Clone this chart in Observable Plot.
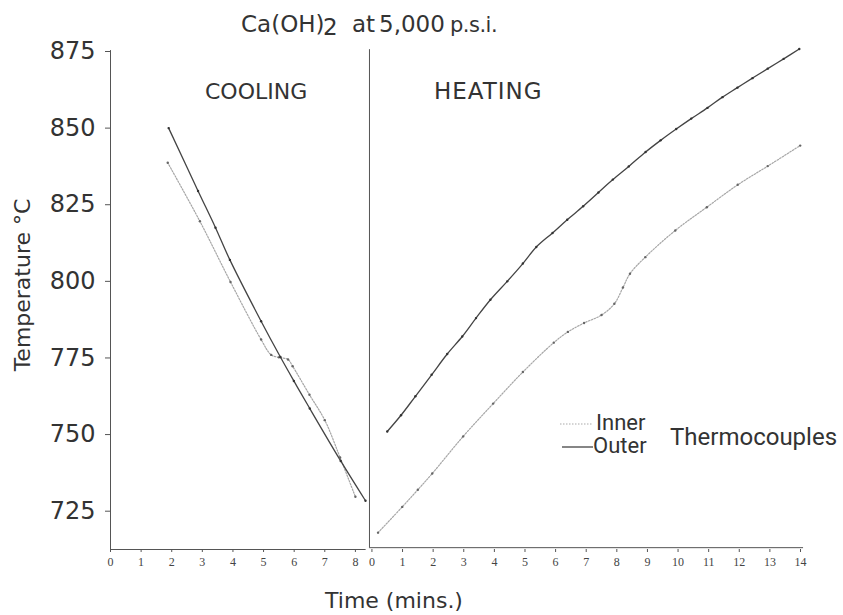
<!DOCTYPE html>
<html>
<head>
<meta charset="utf-8">
<script src="https://cdn.jsdelivr.net/npm/d3@7"></script>
<script src="https://cdn.jsdelivr.net/npm/@observablehq/plot@0.6"></script>
<style>
  html, body { margin: 0; padding: 0; background: #fff; }
  #wrap { position: relative; width: 843px; height: 615px; overflow: hidden; }
  #wrap > svg { position: absolute; left: 0; top: 0; }
  #overlay { pointer-events: none; }
</style>
</head>
<body>
<div id="wrap">
  <div id="chart"></div>
  <svg id="overlay" width="843" height="615" xmlns="http://www.w3.org/2000/svg">
    <g fill="#333" font-family="'DejaVu Sans', sans-serif">
      <text x="241" y="32" font-size="23">Ca(OH)</text>
      <text x="323" y="35" font-size="23">2</text>
      <text x="352" y="32" font-size="23">at</text>
      <text x="379" y="32" font-size="23">5,000</text>
      <text x="450" y="32" font-size="21" letter-spacing="-0.5">p.s.i.</text>
      <text x="205" y="99" font-size="22">COOLING</text>
      <text x="434" y="99" font-size="23" letter-spacing="1">HEATING</text>
      <text transform="translate(30,285) rotate(-90)" text-anchor="middle" font-size="22">Temperature °C</text>
      <text x="394" y="608" text-anchor="middle" font-size="22">Time (mins.)</text>
    </g>
    <g fill="#333" font-family="Roboto, sans-serif">
      <line x1="560" y1="424" x2="593" y2="424" stroke="#aaa" stroke-width="1.2" stroke-dasharray="1.5,1.5"/>
      <line x1="562" y1="447" x2="593" y2="447" stroke="#444" stroke-width="1.3"/>
      <text x="596" y="430" font-size="22">Inner</text>
      <text x="593" y="453" font-size="22">Outer</text>
      <text x="670" y="445" font-size="24">Thermocouples</text>
    </g>
  </svg>
</div>
<script>
// ---- data (time in minutes, temperature in °C) ----
const coolOuterTime = [1.9, 2.86, 3.43, 3.9, 4.92, 5.55, 5.99, 6.51, 7.52, 8.33];
const coolOuterTemp = [850, 829.5, 817.5, 807, 787, 775.3, 767.5, 758.5, 741.4, 728.4];

const coolInnerTime = [1.87, 2.92, 3.92, 4.92, 5.25, 5.5, 5.8, 5.95, 6.5, 7.0, 7.5, 8.0];
const coolInnerTemp = [838.7, 819.6, 799.8, 781, 776, 775.2, 774.5, 772.3, 763, 754.7, 742.5, 729.7];

const heatOuterTime = [0.5, 0.95, 1.42, 1.95, 2.46, 2.95, 3.4, 3.87, 4.42, 4.93, 5.37, 5.9, 6.38, 6.9, 7.4, 7.87, 8.39, 8.94, 9.43, 9.94, 10.43, 10.96, 11.45, 11.94, 12.43, 12.93, 13.45, 13.96];
const heatOuterTemp = [751, 756.3, 762.5, 769.5, 776.3, 782, 788, 794, 800, 805.8, 811.2, 815.8, 820.1, 824.5, 829, 833.2, 837.5, 842.2, 846, 849.7, 853.1, 856.6, 860.1, 863.2, 866.3, 869.4, 872.6, 875.8];

const heatInnerTime = [0.2, 0.99, 1.5, 1.97, 2.98, 3.96, 4.93, 5.94, 6.4, 6.93, 7.5, 7.92, 8.2, 8.43, 8.93, 9.91, 10.94, 11.95, 12.93, 13.99];
const heatInnerTemp = [718, 726.4, 732, 737.3, 749.4, 760.1, 770.4, 780, 783.5, 786.4, 789, 792.7, 798, 802.5, 807.9, 816.6, 824.2, 831.5, 837.6, 844.3];

const yTicks = [725, 750, 775, 800, 825, 850, 875];
const coolTicks = [0, 1, 2, 3, 4, 5, 6, 7, 8];
const heatTicks = [0, 1, 2, 3, 4, 5, 6, 7, 8, 9, 10, 11, 12, 13, 14];

// heating panel is drawn to the right of the cooling panel on one time axis
const OFFSET = 8.54;
const yMin = 712.5, yMax = 875;

const zip = (ts, vs) => ts.map((t, i) => ({t, T: vs[i]}));
const coolOuter = zip(coolOuterTime, coolOuterTemp);
const coolInner = zip(coolInnerTime, coolInnerTemp);
const heatOuter = zip(heatOuterTime, heatOuterTemp);
const heatInner = zip(heatInnerTime, heatInnerTemp);

const outerStyle = {stroke: "#444", strokeWidth: 1.3, curve: "catmull-rom"};
const innerStyle = {stroke: "#a6a6a6", strokeWidth: 1.2, strokeDasharray: "1.5,1.5", curve: "catmull-rom"};
const axisStroke = "#555";
const hx = d => d.t + OFFSET;

const chart = Plot.plot({
  width: 843,
  height: 615,
  marginLeft: 110,
  marginRight: 43,
  marginTop: 51,
  marginBottom: 66,
  x: {domain: [0, OFFSET + 14], label: null},
  y: {domain: [yMin, yMax], label: null},
  style: {background: "#fff", color: "#333"},
  marks: [
    // frame lines
    Plot.ruleX([0], {y1: yMin, y2: yMax + 0.3, stroke: axisStroke}),
    Plot.ruleX([OFFSET - 0.08], {y1: yMin + 0.6, y2: yMax + 0.6, stroke: axisStroke}),
    Plot.ruleY([yMin], {x1: 0, x2: 8.35, stroke: axisStroke}),
    Plot.ruleY([yMin + 0.6], {x1: OFFSET - 0.08, x2: OFFSET + 14.1, stroke: axisStroke}),
    // axes
    Plot.axisY(yTicks, {tickSize: 5, tickPadding: 10, fontSize: 24, fontFamily: "DejaVu Sans, sans-serif", fill: "#333", stroke: axisStroke, label: null}),
    Plot.axisX(coolTicks, {tickSize: 3, tickPadding: 5, fontSize: 12, fontFamily: "Liberation Serif, serif", fill: "#444", stroke: axisStroke, label: null}),
    Plot.axisX(heatTicks.map(d => d + OFFSET), {tickSize: 3, tickPadding: 5, fontSize: 12, fontFamily: "Liberation Serif, serif", fill: "#444", stroke: axisStroke, tickFormat: d => String(Math.round(d - OFFSET)), label: null}),
    // cooling
    Plot.line(coolInner, {x: "t", y: "T", ...innerStyle}),
    Plot.line(coolOuter, {x: "t", y: "T", ...outerStyle}),
    Plot.dot(coolInner, {x: "t", y: "T", r: 1.2, fill: "#666", stroke: null}),
    Plot.dot(coolOuter, {x: "t", y: "T", r: 1.2, fill: "#333", stroke: null}),
    // heating
    Plot.line(heatInner, {x: hx, y: "T", ...innerStyle}),
    Plot.line(heatOuter, {x: hx, y: "T", ...outerStyle}),
    Plot.dot(heatInner, {x: hx, y: "T", r: 1.2, fill: "#666", stroke: null}),
    Plot.dot(heatOuter, {x: hx, y: "T", r: 1.2, fill: "#333", stroke: null})
  ]
});
document.getElementById("chart").appendChild(chart);
</script>
</body>
</html>
